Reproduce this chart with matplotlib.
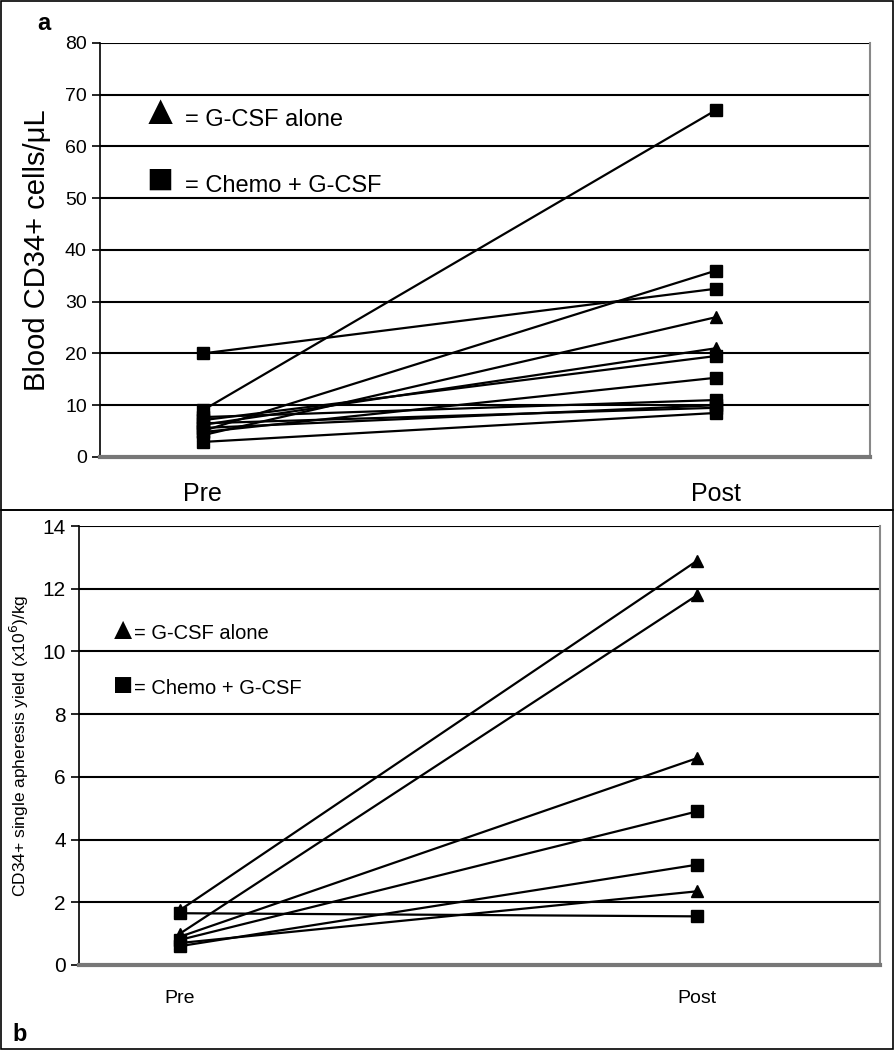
import matplotlib
matplotlib.use("Agg")
import matplotlib.pyplot as plt

plt.rcParams['font.family'] = ['Liberation Sans', 'DejaVu Sans']

# panel a: blood CD34+ cells/uL, pre vs post
a_pre = [20, 9, 5, 4.2, 6.2, 7.1, 4.8, 7.7, 5.6, 6.5, 2.9]
a_post = [32.5, 67, 36, 27, 21, 19.5, 15.3, 11, 10, 9.5, 8.5]
a_mark = ['s', 's', 's', '^', '^', 's', 's', 's', 's', 's', 's']

# panel b: single apheresis yield (x10^6)/kg
b_pre = [1.75, 1.0, 0.9, 0.8, 0.6, 0.7, 1.65]
b_post = [12.9, 11.8, 6.6, 4.9, 3.2, 2.35, 1.55]
b_mark = ['^', '^', '^', 's', 's', '^', 's']

cats = ['Pre', 'Post']

fig = plt.figure(figsize=(8.95, 10.5), dpi=100)

# panel boxes
fig.add_artist(plt.Rectangle((0.001, 0.514), 0.997, 0.485, transform=fig.transFigure,
                             fill=False, lw=1.2, color='black'))
fig.add_artist(plt.Rectangle((0.001, 0.001), 0.997, 0.513, transform=fig.transFigure,
                             fill=False, lw=1.2, color='black'))
fig.text(0.042, 0.978, 'a', fontsize=17, fontweight='bold', va='center', ha='left')
fig.text(0.014, 0.015, 'b', fontsize=17, fontweight='bold', va='center', ha='left')


def style_axes(ax, ymax, step, tick_fs, cat_fs, pad):
    ax.set_ylim(0, ymax)
    ax.set_yticks(range(0, ymax + 1, step))
    for y in range(step, ymax + 1, step):
        ax.axhline(y, color='black', lw=1.5, zorder=1)
    ax.spines['top'].set_visible(False)
    ax.spines['right'].set_color('#888888')
    ax.spines['right'].set_linewidth(1.5)
    ax.spines['bottom'].set_color('#777777')
    ax.spines['bottom'].set_linewidth(3)
    ax.spines['left'].set_linewidth(1.2)
    ax.set_xticks([0, 1])
    ax.set_xticklabels(cats, fontsize=cat_fs)
    ax.tick_params(axis='x', length=0, pad=pad)
    ax.tick_params(axis='y', length=6, width=1.2, labelsize=tick_fs, direction='out')


# panel a
ax1 = fig.add_axes([0.1117, 0.5648, 0.860, 0.3943])
for p, q, m in zip(a_pre, a_post, a_mark):
    ax1.plot([0, 1], [p, q], color='black', lw=1.6, marker=m, markersize=9, zorder=3,
             clip_on=False)
ax1.set_xlim(-0.2, 1.3)
style_axes(ax1, 80, 10, 14, 18, 18)
ax1.set_ylabel('Blood CD34+ cells/\u03bcL', fontsize=21, labelpad=10)
ax1.text(0.078, 0.83, '\u25b2', transform=ax1.transAxes, fontsize=30, ha='center', va='center')
ax1.text(0.110, 0.815, '= G-CSF alone', transform=ax1.transAxes, fontsize=17, ha='left', va='center')
ax1.text(0.078, 0.665, '\u25a0', transform=ax1.transAxes, fontsize=32, ha='center', va='center')
ax1.text(0.110, 0.655, '= Chemo + G-CSF', transform=ax1.transAxes, fontsize=17, ha='left', va='center')

# panel b
ax2 = fig.add_axes([0.0883, 0.081, 0.895, 0.418])
for p, q, m in zip(b_pre, b_post, b_mark):
    ax2.plot([0, 1], [p, q], color='black', lw=1.6, marker=m, markersize=8, zorder=3,
             clip_on=False)
ax2.set_xlim(-0.195, 1.353)
style_axes(ax2, 14, 2, 15, 14, 18)
ax2.set_ylabel('CD34+ single apheresis yield (x10$^6$)/kg', fontsize=12.5, labelpad=8)
ax2.text(0.055, 0.76, '\u25b2', transform=ax2.transAxes, fontsize=22, ha='center', va='center')
ax2.text(0.069, 0.755, '= G-CSF alone', transform=ax2.transAxes, fontsize=14.5, ha='left', va='center')
ax2.text(0.055, 0.635, '\u25a0', transform=ax2.transAxes, fontsize=24, ha='center', va='center')
ax2.text(0.069, 0.63, '= Chemo + G-CSF', transform=ax2.transAxes, fontsize=14.5, ha='left', va='center')

fig.savefig('out.png', dpi=100)
